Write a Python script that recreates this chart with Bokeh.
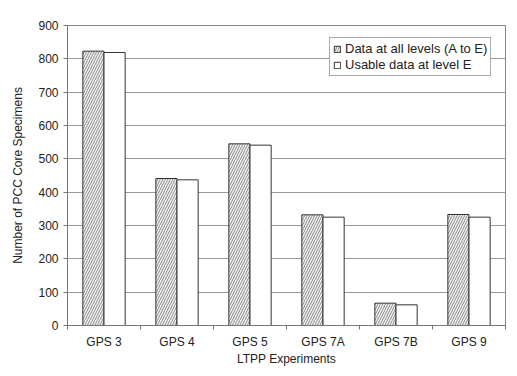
from bokeh.plotting import figure
from bokeh.models import ColumnDataSource, FixedTicker, Range1d, Legend, LegendItem
from bokeh.embed import file_html
from bokeh.resources import INLINE

categories = ["GPS 3", "GPS 4", "GPS 5", "GPS 7A", "GPS 7B", "GPS 9"]
all_levels = [823, 441, 545, 332, 67, 333]
usable_e = [819, 437, 541, 325, 62, 325]
y_ticks = [0, 100, 200, 300, 400, 500, 600, 700, 800, 900]

idx = list(range(len(categories)))
centers = [i + 0.5 for i in idx]
src = ColumnDataSource(dict(
    x1=[c - 0.145 for c in centers],
    x2=[c + 0.145 for c in centers],
    a=all_levels, u=usable_e))

p = figure(frame_width=438, frame_height=300, output_backend="svg", toolbar_location=None,
           x_range=Range1d(0, len(categories)), y_range=Range1d(0, 900),
           min_border_left=67, min_border_right=4, min_border_top=25, min_border_bottom=40)

r1 = p.vbar(x="x1", top="a", width=0.29, source=src, fill_color="#f2f2f2",
            hatch_pattern="/", hatch_color="#8a8a8a", hatch_scale=5, hatch_weight=1,
            line_color="#333333", line_width=1)
r2 = p.vbar(x="x2", top="u", width=0.29, source=src, fill_color="white",
            line_color="#333333", line_width=1)

p.xaxis.ticker = FixedTicker(ticks=centers, minor_ticks=list(range(len(categories) + 1)))
p.xaxis.major_label_overrides = {c: n for c, n in zip(centers, categories)}
p.xaxis.major_tick_out = 0
p.xaxis.major_tick_in = 0
p.xaxis.minor_tick_out = 4
p.xaxis.minor_tick_in = 0
p.yaxis.ticker = FixedTicker(ticks=y_ticks)
p.yaxis.major_tick_out = 4
p.yaxis.major_tick_in = 0

for ax in (p.xaxis[0], p.yaxis[0]):
    ax.axis_line_color = "#777777"
    ax.major_tick_line_color = "#777777"
    ax.minor_tick_line_color = "#777777"
    ax.major_label_text_font = "Liberation Sans"
    ax.major_label_text_font_size = "12px"
    ax.major_label_text_color = "#222222"
    ax.axis_label_text_font = "Liberation Sans"
    ax.axis_label_text_font_size = "12px"
    ax.axis_label_text_font_style = "normal"
    ax.axis_label_text_color = "#222222"
p.yaxis.minor_tick_line_color = None
p.xaxis.axis_label = "LTPP Experiments"
p.yaxis.axis_label = "Number of PCC Core Specimens"
p.xaxis.major_label_standoff = 5
p.xaxis.axis_label_standoff = 0
p.yaxis.axis_label_standoff = 10

p.xgrid.grid_line_color = None
p.ygrid.ticker = FixedTicker(ticks=y_ticks)
p.ygrid.grid_line_color = "#999999"
p.ygrid.grid_line_width = 1
p.outline_line_color = "#888888"
p.outline_line_width = 1
p.background_fill_color = "white"
p.border_fill_color = "white"

legend = Legend(items=[LegendItem(label="Data at all levels (A to E)", renderers=[r1]),
                       LegendItem(label="Usable data at level E", renderers=[r2])],
                location=(262, 249))
legend.margin = 0
legend.padding = 3
legend.spacing = 1
legend.glyph_width = 8
legend.glyph_height = 8
legend.label_standoff = 4
legend.label_height = 14
legend.label_text_font = "Liberation Sans"
legend.label_text_font_size = "13px"
legend.label_text_color = "#222222"
legend.border_line_color = "#555555"
legend.border_line_width = 1
legend.background_fill_alpha = 1
p.add_layout(legend)

open("out.html", "w").write(file_html(p, INLINE))
